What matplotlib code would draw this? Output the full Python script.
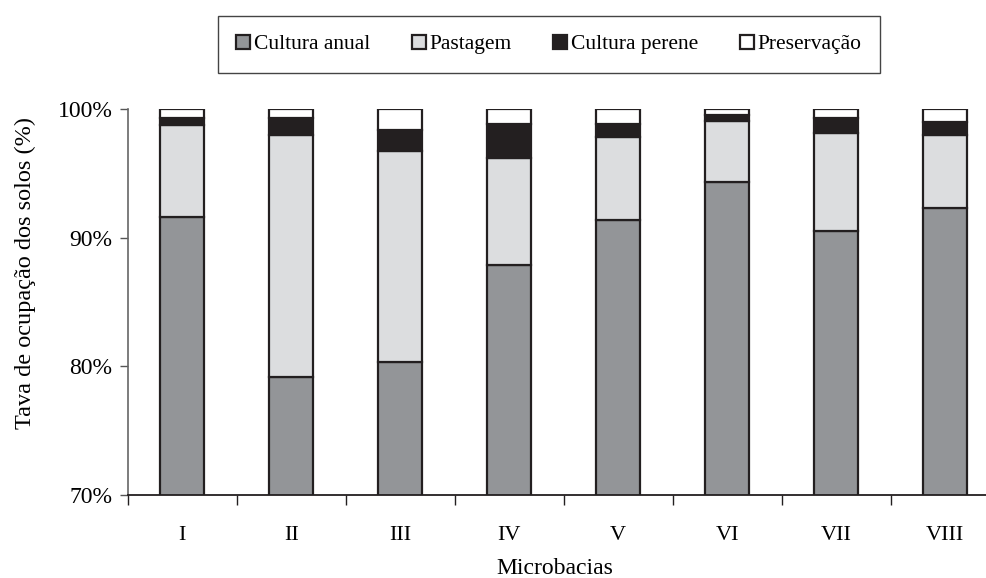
import numpy as np
from matplotlib import pyplot as plt
from matplotlib.ticker import FixedLocator, NullFormatter

microbacias = ['I', 'II', 'III', 'IV', 'V', 'VI', 'VII', 'VIII']
cultura_anual = [91.6, 79.2, 80.3, 87.9, 91.4, 94.3, 90.5, 92.3]
pastagem = [7.15, 18.8, 16.45, 8.3, 6.4, 4.75, 7.6, 5.7]
cultura_perene = [0.55, 1.3, 1.65, 2.6, 1.0, 0.45, 1.2, 1.0]
preservacao = [0.7, 0.7, 1.6, 1.2, 1.2, 0.5, 0.7, 1.0]

series = [('Cultura anual', cultura_anual, '#939598'),
          ('Pastagem', pastagem, '#dcdddf'),
          ('Cultura perene', cultura_perene, '#231f20'),
          ('Preservação', preservacao, '#ffffff')]

plt.rcParams['font.family'] = ['Liberation Serif', 'DejaVu Serif']
plt.rcParams['font.size'] = 15.5

fig = plt.figure(figsize=(9.87, 5.78), dpi=100)
ax = fig.add_axes([0.1294, 0.1436, 0.8835, 0.6678])

x = np.arange(len(microbacias))
base = np.zeros(len(microbacias))
for nome, vals, cor in series:
	ax.bar(x, vals, 0.4, bottom=base, color=cor, edgecolor='#231f20',
	       linewidth=1.6, label=nome, zorder=2)
	base = base + np.asarray(vals)

ax.set_ylim(70, 100)
ax.set_xlim(-0.5, len(microbacias) - 0.5)
ax.set_yticks([70, 80, 90, 100])
ax.set_yticklabels(['70%', '80%', '90%', '100%'], fontsize=17)
ax.set_xticks(x)
ax.set_xticklabels(microbacias, fontsize=16)
ax.xaxis.set_minor_locator(FixedLocator(np.arange(-0.5, len(microbacias), 1.0)))
ax.xaxis.set_minor_formatter(NullFormatter())
ax.tick_params(axis='x', which='major', length=0, pad=22)
ax.tick_params(axis='x', which='minor', length=7, width=1.0, color='#231f20')
ax.tick_params(axis='y', length=6, width=1.0, color='#555555', pad=5)

for s in ['top', 'right']:
	ax.spines[s].set_visible(False)
ax.spines['left'].set_color('#666666')
ax.spines['left'].set_linewidth(1.2)
ax.spines['bottom'].set_color('#231f20')
ax.spines['bottom'].set_linewidth(1.3)

fig.text(25/987, 1 - 273/578, 'Tava de ocupação dos solos (%)', rotation=90,
         ha='center', va='center', fontsize=17.5)
fig.text(555/987, 1 - 568/578, 'Microbacias', ha='center', va='center',
         fontsize=17)

leg = fig.legend(loc='center', bbox_to_anchor=(549/987, 1 - 44.5/578), ncol=4,
                 fancybox=False, edgecolor='#444444', framealpha=1,
                 handlelength=0.65, handleheight=0.65, handletextpad=0.2,
                 columnspacing=1.9, borderpad=0.85, borderaxespad=0)
leg.get_frame().set_linewidth(1.0)

plt.savefig('out.png', dpi=100)
